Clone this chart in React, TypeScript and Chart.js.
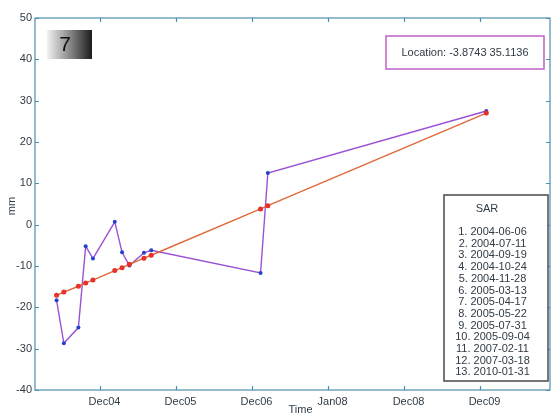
import { useEffect, useRef } from "react";
import { Chart, registerables } from "chart.js";

Chart.register(...registerables);

// ---- data ----
const sarDates = [
  "2004-06-06",
  "2004-07-11",
  "2004-09-19",
  "2004-10-24",
  "2004-11-28",
  "2005-03-13",
  "2005-04-17",
  "2005-05-22",
  "2005-07-31",
  "2005-09-04",
  "2007-02-11",
  "2007-03-18",
  "2010-01-31",
];
const observedMm = [-18.3, -28.7, -24.9, -5.2, -8.2, 0.7, -6.7, -9.9, -6.8, -6.2, -11.7, 12.5, 27.5];
const fittedMm = [-17.1, -16.3, -14.9, -14.1, -13.4, -11.1, -10.4, -9.6, -8.1, -7.4, 3.8, 4.6, 27.0];
const xTickValues = [2005, 2006, 2007, 2008, 2009, 2010];
const xTickLabels = ["Dec04", "Dec05", "Dec06", "Jan08", "Dec08", "Dec09"];
const xMin = 2004.145;
const xMax = 2010.92;
const yMin = -40;
const yMax = 50;
const yStep = 10;
const panelNumber = "7";
const locationText = "Location: -3.8743 35.1136";
const legendTitle = "SAR";
const xTitle = "Time";
const yTitle = "mm";

function toDecimalYear(s: string): number {
  const [y, m, d] = s.split("-").map(Number);
  const start = Date.UTC(y, 0, 1);
  const end = Date.UTC(y + 1, 0, 1);
  return y + (Date.UTC(y, m - 1, d) - start) / (end - start);
}

const FONT = "'Liberation Sans', Arial, sans-serif";
const AXIS_COLOR = "#4d8fae";
const TEXT_COLOR = "#2f3b45";

const overlayPlugin = {
  id: "overlay",
  afterDraw(chart: any) {
    const { ctx, chartArea } = chart;
    const { left, right, top, bottom } = chartArea;
    const xs = chart.scales.x;
    const ys = chart.scales.y;
    ctx.save();
    // axes box
    ctx.strokeStyle = AXIS_COLOR;
    ctx.lineWidth = 1.2;
    ctx.strokeRect(left, top, right - left, bottom - top);
    // ticks (inward)
    const tl = 4;
    ctx.beginPath();
    xTickValues.forEach((v) => {
      const px = Math.round(xs.getPixelForValue(v)) + 0.5;
      ctx.moveTo(px, bottom);
      ctx.lineTo(px, bottom - tl);
      ctx.moveTo(px, top);
      ctx.lineTo(px, top + tl);
    });
    for (let v = yMin; v <= yMax; v += yStep) {
      const py = Math.round(ys.getPixelForValue(v)) + 0.5;
      ctx.moveTo(left, py);
      ctx.lineTo(left + tl, py);
      ctx.moveTo(right, py);
      ctx.lineTo(right - tl, py);
    }
    ctx.stroke();

    // axis titles
    ctx.fillStyle = TEXT_COLOR;
    ctx.font = `11px ${FONT}`;
    ctx.textAlign = "center";
    ctx.textBaseline = "middle";
    ctx.fillText(xTitle, (left + right) / 2 + 8, 410);
    ctx.save();
    ctx.translate(12, (top + bottom) / 2 + 2);
    ctx.rotate(-Math.PI / 2);
    ctx.fillText(yTitle, 0, 0);
    ctx.restore();

    // panel number box with gradient
    const bx = 47, by = 30, bw = 45, bh = 29;
    const grad = ctx.createLinearGradient(bx, 0, bx + bw, 0);
    grad.addColorStop(0, "#f2f2f2");
    grad.addColorStop(0.5, "#8a8a8a");
    grad.addColorStop(1, "#1c1c1c");
    ctx.fillStyle = grad;
    ctx.fillRect(bx, by, bw, bh);
    ctx.fillStyle = "#111";
    ctx.font = `21px ${FONT}`;
    ctx.textAlign = "center";
    ctx.textBaseline = "middle";
    ctx.fillText(panelNumber, 65, 45);

    // location box
    const lx = 386, ly = 36, lw = 158, lh = 33;
    ctx.fillStyle = "#ffffff";
    ctx.fillRect(lx, ly, lw, lh);
    ctx.strokeStyle = "#c36bc8";
    ctx.lineWidth = 1.6;
    ctx.strokeRect(lx, ly, lw, lh);
    ctx.fillStyle = TEXT_COLOR;
    ctx.font = `11px ${FONT}`;
    ctx.fillText(locationText, lx + lw / 2, ly + lh / 2 + 0.5);

    // legend box listing SAR dates
    const gx = 444, gy = 195, gw = 104, gh = 186;
    ctx.fillStyle = "#ffffff";
    ctx.fillRect(gx, gy, gw, gh);
    ctx.strokeStyle = "#4a4a4a";
    ctx.lineWidth = 1.5;
    ctx.strokeRect(gx, gy, gw, gh);
    ctx.fillStyle = TEXT_COLOR;
    ctx.font = `11px ${FONT}`;
    ctx.fillText(legendTitle, 487, 209);
    sarDates.forEach((d, i) => {
      ctx.fillText(`${i + 1}. ${d}`, 492.5, 232 + i * 11.7);
    });
    ctx.restore();
  },
};

export default function App() {
  const ref = useRef<HTMLCanvasElement>(null);
  useEffect(() => {
    const canvas = ref.current;
    if (!canvas) return;
    const xVals = sarDates.map(toDecimalYear);
    const chart = new Chart(canvas, {
      type: "line",
      data: {
        datasets: [
          {
            label: "observed",
            data: xVals.map((x, i) => ({ x, y: observedMm[i] })),
            borderColor: "#9a52d4",
            borderWidth: 1.4,
            pointBackgroundColor: "#2740cc",
            pointBorderColor: "#2740cc",
            pointRadius: 2,
            pointBorderWidth: 0,
            tension: 0,
            order: 1,
          },
          {
            label: "fit",
            data: xVals.map((x, i) => ({ x, y: fittedMm[i] })),
            borderColor: "#e0683a",
            borderWidth: 1.4,
            pointBackgroundColor: "#e8302a",
            pointBorderColor: "#e8302a",
            pointRadius: 2.5,
            pointBorderWidth: 0,
            tension: 0,
            order: 0,
          },
        ],
      },
      options: {
        responsive: false,
        animation: false,
        devicePixelRatio: 1,
        layout: { padding: { left: 0, top: 18, right: 5, bottom: 0 } },
        plugins: { legend: { display: false }, tooltip: { enabled: false } },
        scales: {
          x: {
            type: "linear",
            min: xMin,
            max: xMax,
            grid: { display: false, drawTicks: false },
            border: { display: false },
            afterBuildTicks: (scale: any) => {
              scale.ticks = xTickValues.map((v) => ({ value: v }));
            },
            afterFit: (scale: any) => {
              scale.height = 26;
            },
            ticks: {
              autoSkip: false,
              maxRotation: 0,
              padding: 5,
              labelOffset: 4.5,
              color: TEXT_COLOR,
              font: { family: FONT, size: 11 },
              callback: (value: any) => {
                const idx = xTickValues.indexOf(Number(value));
                return idx >= 0 ? xTickLabels[idx] : "";
              },
            },
          },
          y: {
            type: "linear",
            min: yMin,
            max: yMax,
            grid: { display: false, drawTicks: false },
            border: { display: false },
            afterFit: (scale: any) => {
              scale.width = 35;
            },
            ticks: {
              stepSize: yStep,
              padding: 3,
              color: TEXT_COLOR,
              font: { family: FONT, size: 11 },
            },
          },
        },
      },
      plugins: [overlayPlugin],
    });
    return () => chart.destroy();
  }, []);
  return (
    <div style={{ position: "fixed", left: 0, top: 0, width: 555, height: 416, background: "#fff" }}>
      <canvas ref={ref} width={555} height={416} style={{ display: "block" }} />
    </div>
  );
}
